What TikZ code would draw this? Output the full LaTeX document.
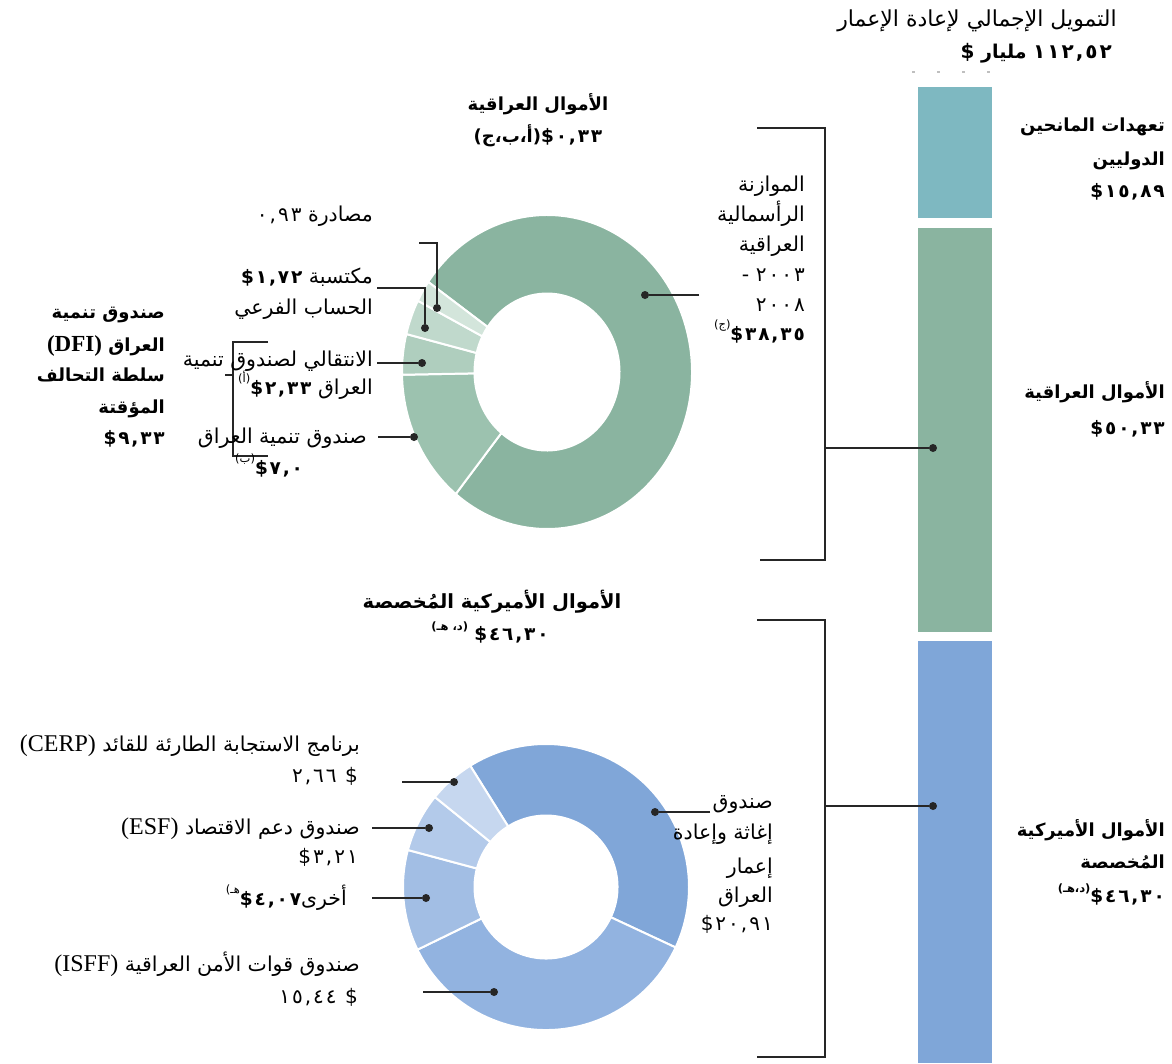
\documentclass[tikz,border=0pt]{standalone}
\usepackage{fontspec}
\TeXXeTstate=1
\newfontfamily\arf[Script=Arabic]{DejaVu Sans}
\newfontfamily\numf[LetterSpace=10]{DejaVu Sans}
\newfontfamily\lsf{Liberation Serif}
\definecolor{bteal}{HTML}{7EB8C1}
\definecolor{bgreen}{HTML}{8AB4A0}
\definecolor{bblue}{HTML}{7FA6D8}
\definecolor{gA}{HTML}{8AB4A0}
\definecolor{gB}{HTML}{9CC2AF}
\definecolor{gC}{HTML}{AFCEBE}
\definecolor{gD}{HTML}{C0D9CC}
\definecolor{gE}{HTML}{D3E5DB}
\definecolor{uA}{HTML}{80A6D8}
\definecolor{uB}{HTML}{92B3E0}
\definecolor{uC}{HTML}{A2BEE4}
\definecolor{uD}{HTML}{B3CAEA}
\definecolor{uE}{HTML}{C6D7EF}
\newcommand\sups[1]{\raisebox{0.55em}{\arf\fontsize{11.5}{12}\selectfont #1}}
\newcommand\nr[1]{\mbox{\numf\fontsize{20}{20}\selectfont #1}}
\newcommand\nb[1]{\mbox{\numf\bfseries\fontsize{18.5}{20}\selectfont #1}}
\newcommand\lat[1]{\mbox{\lsf\fontsize{24}{24}\selectfont #1}}
\newcommand\latb[1]{\mbox{\lsf\bfseries\fontsize{23}{24}\selectfont #1}}
\newcommand\sect[8]{%
 \fill[#8, draw=white, line width=2pt] ({#1+#3*cos(#6)},{#2-#4*sin(#6)})
  arc[start angle={-(#6)}, end angle={-(#7)}, x radius=#3, y radius=#4]
  -- ({#1+#5*#3*cos(#7)},{#2-#5*#4*sin(#7)})
  arc[start angle={-(#7)}, end angle={-(#6)}, x radius={#5*#3}, y radius={#5*#4}] -- cycle;}
\tikzset{
 lbl/.style={inner sep=0pt, font=\arf\fontsize{20.5}{22}\selectfont},
 lblb/.style={inner sep=0pt, font=\arf\bfseries\fontsize{18}{20}\selectfont},
 lead/.style={line width=1.3pt, draw=black!85},
 brk/.style={line width=1.5pt, draw=black!85},
 dot/.style={circle, fill=black!85, inner sep=0pt, minimum size=8pt},
}
\begin{document}
\begin{tikzpicture}[x=1pt,y=-1pt]
\useasboundingbox (0,0) rectangle (1172,1063);
\fill[white] (0,0) rectangle (1172,1063);
% bar
\fill[bteal] (918,87) rectangle (992,218);
\fill[bgreen] (918,228) rectangle (992,632);
\fill[bblue] (918,641) rectangle (992,1063);
\draw[gray!50, line width=2pt, dash pattern=on 3pt off 22pt] (912,72) -- (992,72);
% top donut
\sect{547}{372}{145}{157}{0.5}{145}{-129}{gA}
\sect{547}{372}{145}{157}{0.5}{231}{181}{gB}
\sect{547}{372}{145}{157}{0.5}{181}{166}{gC}
\sect{547}{372}{145}{157}{0.5}{166}{153}{gD}
\sect{547}{372}{145}{157}{0.5}{153}{145}{gE}
% bottom donut
\sect{546}{887}{143}{143}{0.5}{122}{-25}{uA}
\sect{546}{887}{143}{143}{0.5}{-25}{-154}{uB}
\sect{546}{887}{143}{143}{0.5}{206}{165}{uC}
\sect{546}{887}{143}{143}{0.5}{165}{141}{uD}
\sect{546}{887}{143}{143}{0.5}{141}{122}{uE}
% dots
\node[dot] (dse) at (437,308) {};
\node[dot] (dsu) at (425,328) {};
\node[dot] (dtr) at (422,363) {};
\node[dot] (ddf) at (414,437) {};
\node[dot] (dbig) at (645,295) {};
\node[dot] (dcerp) at (454,782) {};
\node[dot] (desf) at (429,828) {};
\node[dot] (doth) at (426,898) {};
\node[dot] (disff) at (494,992) {};
\node[dot] (drel) at (655,812) {};
\node[dot] (dbar1) at (933,448) {};
\node[dot] (dbar2) at (933,806) {};
% leader ends
\coordinate (ese) at (419,243);
\coordinate (esu) at (377,288);
\coordinate (etr) at (377,363);
\coordinate (edf) at (378,437);
\coordinate (ebig) at (699,295);
\coordinate (ecerp) at (402,782);
\coordinate (eesf) at (372,828);
\coordinate (eoth) at (372,898);
\coordinate (eisff) at (423,992);
\coordinate (erel) at (710,812);
\draw[lead] (ese) -| (dse);
\draw[lead] (esu) -| (dsu);
\draw[lead] (etr) -- (dtr);
\draw[lead] (edf) -- (ddf);
\draw[lead] (ebig) -- (dbig);
\draw[lead] (ecerp) -- (dcerp);
\draw[lead] (eesf) -- (desf);
\draw[lead] (eoth) -- (doth);
\draw[lead] (eisff) -- (disff);
\draw[lead] (erel) -- (drel);
% brackets
\coordinate (b1a) at (757,128);
\coordinate (b1b) at (760,560);
\coordinate (b1m) at (825,448);
\draw[brk] (b1a) -| (b1m) |- (b1b);
\draw[brk] (b1m) -- (dbar1);
\coordinate (b2a) at (757,620);
\coordinate (b2b) at (757,1057);
\coordinate (b2m) at (825,806);
\draw[brk] (b2a) -| (b2m) |- (b2b);
\draw[brk] (b2m) -- (dbar2);
\coordinate (b3a) at (268,342);
\coordinate (b3b) at (268,456);
\coordinate (b3m) at (233,375);
\coordinate (b3t) at (225,375);
\draw[brk] (b3a) -| (b3m) |- (b3b);
\draw[brk] (b3t) -- (b3m);
% title
\node[lbl, anchor=base east, font=\arf\fontsize{22}{24}\selectfont] (t1) at (1117,26) {\beginR التمويل الإجمالي لإعادة الإعمار\endR};
\node[lblb, anchor=base east, font=\arf\bfseries\fontsize{19}{20}\selectfont] (t2) at (1112,58) {\beginR\mbox{\numf\bfseries\fontsize{20}{20}\selectfont ١١٢,٥٢} مليار \mbox{\numf\bfseries\fontsize{20}{20}\selectfont\$}\endR};
% top donut title
\node[lblb, anchor=base] (t3) at (538,110) {\beginR الأموال العراقية\endR};
\node[lblb, anchor=base] (t4) at (538,142) {\beginR\nb{\$٠,٣٣}\mbox{(أ،ب،ج)}\endR};
% left bold label
\node[lblb, anchor=base east] (t5) at (165,318) {\beginR صندوق تنمية\endR};
\node[lblb, anchor=base east] (t6) at (165,351) {\beginR العراق \latb{(DFI)}\endR};
\node[lblb, anchor=base east] (t7) at (165,381) {\beginR سلطة التحالف\endR};
\node[lblb, anchor=base east] (t8) at (165,413) {\beginR المؤقتة\endR};
\node[lblb, anchor=base east] (t9) at (165,444) {\beginR\nb{\$٩,٣٣}\endR};
% small labels
\node[lbl, anchor=base east] (t10) at (373,221) {\beginR مصادرة \nr{٠,٩٣}\endR};
\node[lbl, anchor=base east] (t11) at (373,283) {\beginR مكتسبة \nb{\$١,٧٢}\endR};
\node[lbl, anchor=base east] (t12) at (373,314) {\beginR الحساب الفرعي\endR};
\node[lbl, anchor=base east] (t13) at (373,366) {\beginR الانتقالي لصندوق تنمية\endR};
\node[lbl, anchor=base east] (t14) at (373,394) {\beginR العراق \nb{\$٢,٣٣}\sups{(أ)}\endR};
\node[lbl, anchor=base east] (t15) at (367,443) {\beginR صندوق تنمية العراق\endR};
\node[lbl, anchor=base west] (t16) at (235,474) {\beginR\nb{\$٧,٠}\sups{(ب)}\endR};
% big slice label
\node[lbl, anchor=base east] (t17) at (805,191) {\beginR الموازنة\endR};
\node[lbl, anchor=base east] (t18) at (805,221) {\beginR الرأسمالية\endR};
\node[lbl, anchor=base east] (t19) at (805,251) {\beginR العراقية\endR};
\node[lbl, anchor=base east] (t20) at (805,281) {\beginR\nr{٢٠٠٣} -\endR};
\node[lbl, anchor=base east] (t21) at (805,311) {\beginR\nr{٢٠٠٨}\endR};
\node[lbl, anchor=base east] (t22) at (805,340) {\beginR\nb{\$٣٨,٣٥}\sups{(ج)}\endR};
% bar labels
\node[lblb, anchor=base east] (t23) at (1165,131) {\beginR تعهدات المانحين\endR};
\node[lblb, anchor=base east] (t24) at (1165,165) {\beginR الدوليين\endR};
\node[lblb, anchor=base east] (t25) at (1165,197) {\beginR\nb{\$١٥,٨٩}\endR};
\node[lblb, anchor=base east] (t26) at (1165,398) {\beginR الأموال العراقية\endR};
\node[lblb, anchor=base east] (t27) at (1165,434) {\beginR\nb{\$٥٠,٣٣}\endR};
\node[lblb, anchor=base east] (t28) at (1165,836) {\beginR الأموال الأميركية\endR};
\node[lblb, anchor=base east] (t29) at (1165,868) {\beginR المُخصصة\endR};
\node[lblb, anchor=base east] (t30) at (1165,902) {\beginR\nb{\$٤٦,٣٠}\sups{(د،هـ)}\endR};
% bottom title
\node[lblb, anchor=base, font=\arf\bfseries\fontsize{19.5}{20}\selectfont] (t31) at (492,608) {\beginR الأموال الأميركية المُخصصة\endR};
\node[lblb, anchor=base] (t32) at (490,640) {\beginR\nb{\$٤٦,٣٠} \sups{\beginR(د، هـ)\endR}\endR};
% bottom labels
\node[lbl, anchor=base east] (t33) at (360,751) {\beginR برنامج الاستجابة الطارئة للقائد \lat{(CERP)}\endR};
\node[lbl, anchor=base east] (t34) at (358,782) {\beginR\nr{\$ ٢,٦٦}\endR};
\node[lbl, anchor=base east] (t35) at (360,834) {\beginR صندوق دعم الاقتصاد \lat{(ESF)}\endR};
\node[lbl, anchor=base east] (t36) at (358,863) {\beginR\nr{\$٣,٢١}\endR};
\node[lbl, anchor=base east] (t37) at (347,905) {\beginR أخرى\nb{\$٤,٠٧}\sups{هـ)}\endR};
\node[lbl, anchor=base east] (t38) at (360,971) {\beginR صندوق قوات الأمن العراقية \lat{(ISFF)}\endR};
\node[lbl, anchor=base east] (t39) at (358,1003) {\beginR\nr{\$ ١٥,٤٤}\endR};
% relief label
\node[lbl, anchor=base east] (t40) at (773,808) {\beginR صندوق\endR};
\node[lbl, anchor=base east] (t41) at (773,839) {\beginR إغاثة وإعادة\endR};
\node[lbl, anchor=base east] (t42) at (773,873) {\beginR إعمار\endR};
\node[lbl, anchor=base east] (t43) at (773,902) {\beginR العراق\endR};
\node[lbl, anchor=base east] (t44) at (773,930) {\beginR\nr{\$٢٠,٩١}\endR};
\end{tikzpicture}
\end{document}
